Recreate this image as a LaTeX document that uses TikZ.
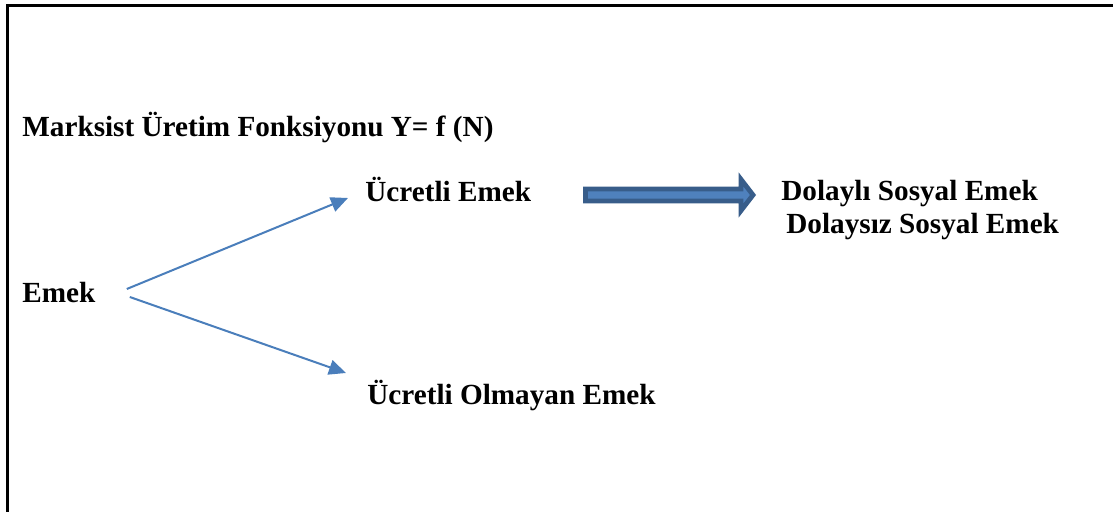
\documentclass[tikz,border=0pt]{standalone}
\usepackage{fontspec}
\setmainfont{Liberation Serif}
\usetikzlibrary{arrows.meta,calc}
\definecolor{thinblue}{HTML}{4A7EBB}
\definecolor{arrowfill}{HTML}{4F81BD}
\definecolor{arrowline}{HTML}{385D8A}

\begin{document}
\begin{tikzpicture}[
  x=0.5pt,y=-0.5pt,
  lbl/.style={inner sep=0pt,anchor=base west,font=\fontsize{14.6}{17}\selectfont\bfseries},
  thin/.style={thinblue,line width=1pt,-{Triangle[length=8.5pt,width=7.5pt]}},
  bigarrow/.style={fill=arrowfill,draw=arrowline,line width=2.4pt,line join=miter,
    to path={let \p1=(\tikztostart),\p2=(\tikztotarget) in
      (\x1,\y1+3pt) -- (\x2-6pt,\y1+3pt) -- (\x2-6pt,\y1+7.8pt) -- (\x2,\y2)
      -- (\x2-6pt,\y1-7.8pt) -- (\x2-6pt,\y1-3pt) -- (\x1,\y1-3pt) -- cycle}}
]
  \useasboundingbox (0,0) rectangle (1113,512);
  % frame
  \draw[line width=1.5pt] (7,512) -- (7,6) -- (1113,6);

  \node[lbl] (title) at (22,137) {Marksist Üretim Fonksiyonu Y= f (N)};
  \node[lbl] (emek) at (22,303) {Emek};
  \node[lbl] (ucretli) at (365,202) {Ücretli Emek};
  \node[lbl] (olmayan) at (367,405) {Ücretli Olmayan Emek};
  \node[lbl] (dolayli) at (781,201) {Dolaylı Sosyal Emek};
  \node[lbl] (dolaysiz) at (786,234) {Dolaysız Sosyal Emek};

  \draw[thin] ($(emek.base east)+(31,-14)$) -- ($(ucretli.base west)+(-17,-4)$);
  \draw[thin] ($(emek.base east)+(34,-6)$) -- ($(olmayan.base west)+(-21,-32)$);
  \path[bigarrow] ($(ucretli.base east)+(54,-7)$) to ($(dolayli.base west)+(-28,-6)$);
\end{tikzpicture}
\end{document}
